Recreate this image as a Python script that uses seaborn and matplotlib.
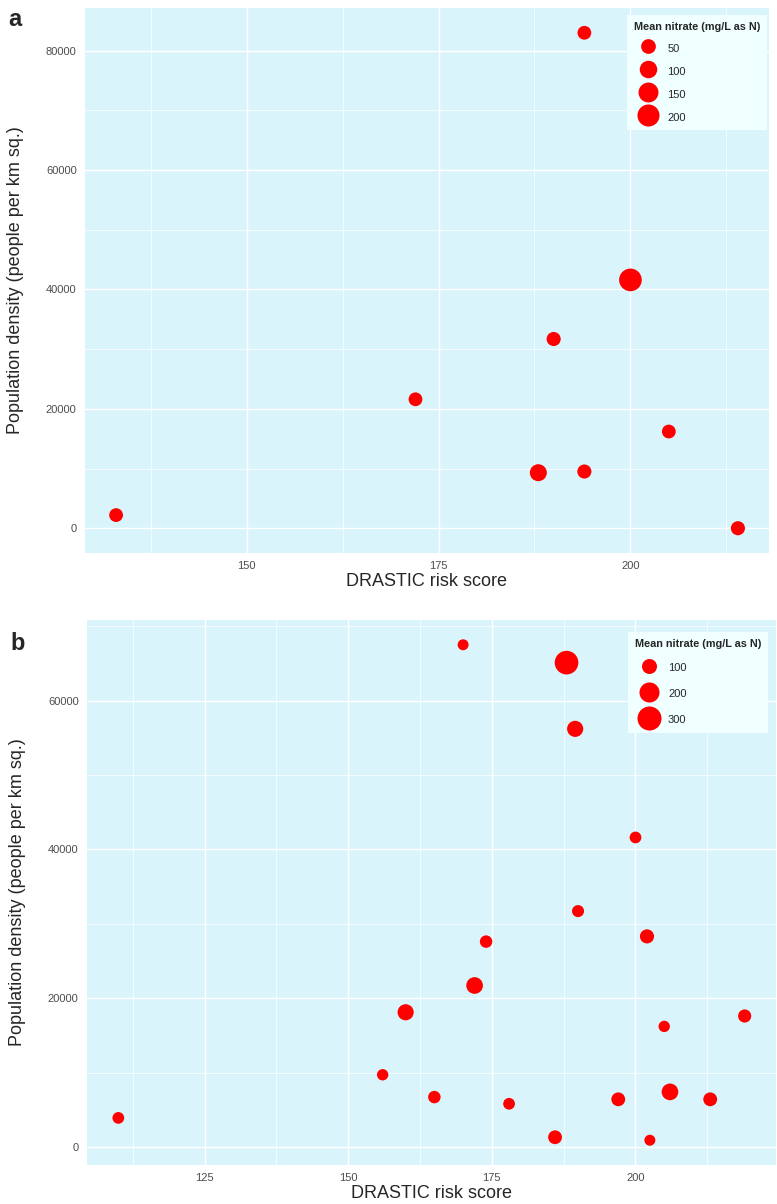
import numpy as np
import pandas as pd
import matplotlib
matplotlib.use('Agg')
import matplotlib.pyplot as plt
from matplotlib.lines import Line2D
from matplotlib import ticker as mtick
import seaborn as sns

#panel a data (DRASTIC score, population density, mean nitrate)
drastic_a=[133, 172, 188, 194, 190, 200, 205, 194, 214]
popden_a=[2200, 21600, 9300, 9500, 31700, 41600, 16200, 83000, 0]
nitrate_a=[35, 35, 90, 40, 40, 215, 35, 35, 40]
legend_vals_a=[50, 100, 150, 200]
xticks_a=[150, 175, 200]
yticks_a=[0, 20000, 40000, 60000, 80000]

#panel b data
drastic_b=[110, 156, 160, 165, 170, 172, 174, 178, 186, 188,
           189.5, 190, 197, 200, 202, 202.5, 205, 206, 213, 219]
popden_b=[3900, 9700, 18100, 6700, 67500, 21700, 27600, 5800, 1300, 65100,
          56200, 31700, 6400, 41600, 28300, 900, 16200, 7400, 6400, 17600]
nitrate_b=[50, 45, 120, 60, 40, 130, 60, 50, 80, 290,
           120, 54, 80, 50, 85, 40, 45, 130, 80, 70]
legend_vals_b=[100, 200, 300]
xticks_b=[125, 150, 175, 200]
yticks_b=[0, 20000, 40000, 60000]

W, H = 777, 1204
bg='#DAF4FC'

sns.set_style('white')
plt.rcParams['font.family']=['Liberation Sans', 'DejaVu Sans']

fig=plt.figure(figsize=(W/100, H/100), dpi=100)


def box(l, r, t, b):
    return [l/W, 1-b/H, (r-l)/W, (b-t)/H]


def area_a(v):
    return 66+0.93*v


def area_b(v):
    return 26+0.91*v


def panel(ax, x, y, n, area, leg_vals, xt, yt, letter, anchor, letter_dy,
          spacing):
    df=pd.DataFrame({'drastic':x, 'pop':y, 'nitrate':n})
    sns.scatterplot(data=df, x='drastic', y='pop', size='nitrate',
                    sizes=(area(0), area(300)), size_norm=(0, 300),
                    color='#FF0000', linewidth=0, legend=False, ax=ax,
                    zorder=3)
    #ggplot-like 5% expansion
    xr=max(x)-min(x)
    yr=max(y)-min(y)
    ax.set_xlim(min(x)-0.05*xr, max(x)+0.05*xr)
    ax.set_ylim(min(y)-0.05*yr, max(y)+0.05*yr)
    ax.set_facecolor(bg)
    for s in ax.spines.values():
        s.set_visible(False)
    ax.set_xticks(xt)
    ax.set_yticks(yt)
    ax.xaxis.set_minor_locator(mtick.AutoMinorLocator(2))
    ax.yaxis.set_minor_locator(mtick.AutoMinorLocator(2))
    ax.grid(which='major', color='white', lw=1.0, zorder=0)
    ax.grid(which='minor', color='white', lw=0.5, zorder=0)
    ax.set_axisbelow(True)
    ax.tick_params(which='major', length=3, width=0.8, color='#555555',
                   labelsize=8, labelcolor='#4D4D4D', pad=3)
    ax.tick_params(which='minor', length=0)
    ax.set_xlabel('DRASTIC risk score', fontsize=13, labelpad=1)
    ax.set_ylabel('Population density (people per km sq.)', fontsize=13,
                  labelpad=16)
    handles=[Line2D([], [], marker='o', linestyle='', color='#FF0000',
                    markersize=np.sqrt(area(v)), markeredgewidth=0)
             for v in leg_vals]
    ax.legend(handles, [str(v) for v in leg_vals],
              title='Mean nitrate (mg/L as N)', loc='upper right',
              bbox_to_anchor=anchor, borderaxespad=0, fontsize=8,
              title_fontproperties={'weight':'bold', 'size':7.8},
              frameon=True, facecolor='#F0FFFF', edgecolor='none',
              framealpha=1, fancybox=False, borderpad=0.6,
              labelspacing=spacing, handleheight=1.5, handlelength=2.6,
              handletextpad=0.4, alignment='left')
    fig.text(ax.get_position().x0-77/W, ax.get_position().y1-letter_dy/H,
             letter, fontsize=17, fontweight='bold', ha='left', va='center')


ax_a=fig.add_axes(box(85, 769, 8, 553))
panel(ax_a, drastic_a, popden_a, nitrate_a, area_a, legend_vals_a,
      xticks_a, yticks_a, 'a', (0.997, 0.987), 12, 0.85)

ax_b=fig.add_axes(box(87, 776, 620, 1165))
panel(ax_b, drastic_b, popden_b, nitrate_b, area_b, legend_vals_b,
      xticks_b, yticks_b, 'b', (0.988, 0.978), 23, 1.1)

fig.savefig('out.png', dpi=100, facecolor='white')
